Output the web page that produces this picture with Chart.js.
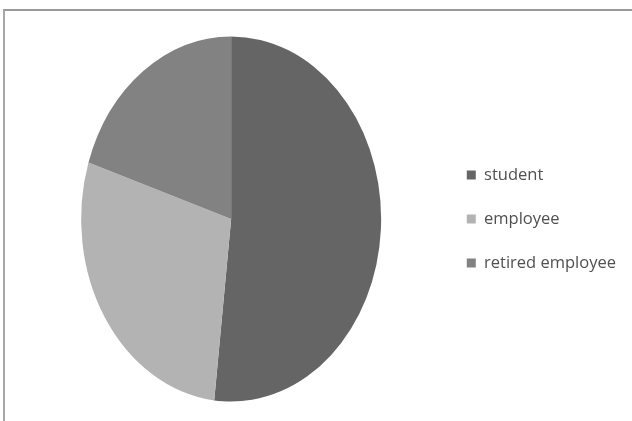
<!DOCTYPE html>
<html><head><meta charset="utf-8">
<script src="https://cdn.jsdelivr.net/npm/chart.js@4/dist/chart.umd.min.js"></script>
<style>
html,body{margin:0;padding:0;background:#fff;}
#wrap{position:relative;width:632px;height:421px;overflow:hidden;}
#frame{position:absolute;left:3px;top:9px;width:700px;height:500px;border-top:2px solid #9a9a9a;border-left:2px solid #a8a8a8;}
canvas{position:absolute;left:0;top:0;}
</style></head>
<body>
<div id="wrap"><div id="frame"></div><canvas id="c" width="632" height="421"></canvas></div>
<script>
const categories = ["student", "employee", "retired employee"];
const values = [51.8, 28.2, 20.0];
const colors = ["#656565", "#b3b3b3", "#828282"];
const ySquash = 1.217;

const ellipsePlugin = {
  id: 'ellipse',
  beforeDatasetsDraw(chart) {
    const a = chart.getDatasetMeta(0).data[0];
    const ctx = chart.ctx;
    ctx.save();
    ctx.translate(a.x, a.y);
    ctx.scale(1, ySquash);
    ctx.translate(-a.x, -a.y);
  },
  afterDatasetsDraw(chart) { chart.ctx.restore(); }
};

new Chart(document.getElementById('c'), {
  type: 'pie',
  data: {
    labels: categories,
    datasets: [{ data: values, backgroundColor: colors, borderWidth: 0 }]
  },
  options: {
    responsive: false,
    animation: false,
    layout: { padding: { left: 23, right: 6, top: 69, bottom: 52 } },
    plugins: {
      tooltip: { enabled: false },
      legend: {
        position: 'right',
        align: 'center',
        labels: {
          boxWidth: 9, boxHeight: 9, padding: 27.5,
          color: '#505050',
          font: { family: 'Open Sans', size: 16.5 }
        }
      }
    }
  },
  plugins: [ellipsePlugin]
});
</script>
</body></html>
